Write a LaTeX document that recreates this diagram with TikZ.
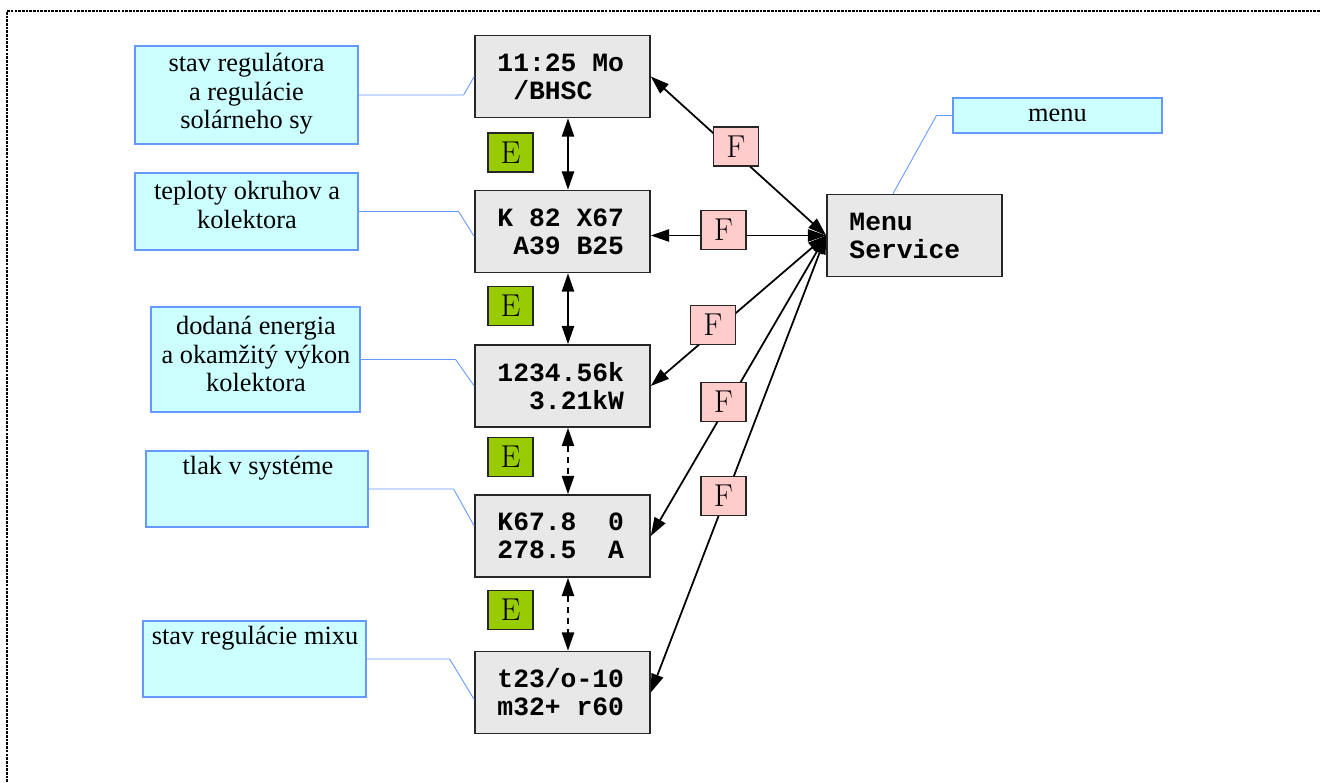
\documentclass[tikz,border=0pt]{standalone}
\usepackage{fontspec}
\setmonofont{Liberation Mono}
\newfontfamily\timesfont{Liberation Serif}
\usetikzlibrary{calc,arrows.meta}
\definecolor{lcdgray}{HTML}{E8E8E8}
\definecolor{egreen}{HTML}{99CC00}
\definecolor{fpink}{HTML}{FFCCCC}
\definecolor{notecyan}{HTML}{CCFFFF}
\definecolor{noteblue}{HTML}{6699FF}
\newcommand{\lcdsp}{\hphantom{0}}
\tikzset{
	lcd/.style={draw=black!85, line width=0.9pt, fill=lcdgray, minimum width=3.5cm, minimum height=1.64cm, inner sep=0pt, text width=74pt, align=left, font=\fontsize{15}{16}\ttfamily\bfseries},
	key/.style={draw=black!85, line width=0.8pt, minimum width=0.9cm, minimum height=0.78cm, inner sep=0pt, font=\fontsize{18}{18}\selectfont},
	ekey/.style={key, fill=egreen},
	fkey/.style={key, fill=fpink},
	note/.style={draw=noteblue, line width=0.7pt, fill=notecyan, inner sep=0pt},
	notetext/.style={inner sep=0pt, align=center, font=\fontsize{15}{16.2}\timesfont},
	lead/.style={draw=noteblue, line width=0.5pt},
	nav/.style={line width=1pt, {Triangle[length=10.5pt,width=7pt]}-{Triangle[length=10.5pt,width=7pt]}},
	frame/.style={line width=1.5pt, dash pattern=on 1.5pt off 0.6pt}
}
\begin{document}
\begin{tikzpicture}[x=0.02cm, y=-0.02cm]
			%%%%% START %%%%%
			\useasboundingbox (0, 0) rectangle (1320, 782);
			\draw[frame] (7, 782) -- (7, 11) -- (1320, 11);
			
			\node[lcd] (lcd1) at (562.5, 76.5) {11:25\lcdsp Mo\\\lcdsp/BHSC};
			\node[lcd] (lcd2) at (562.5, 231.5) {K\lcdsp 82\lcdsp X67\\\lcdsp A39\lcdsp B25};
			\node[lcd] (lcd3) at (562.5, 386) {1234.56k\\\lcdsp\lcdsp 3.21kW};
			\node[lcd] (lcd4) at (562.5, 536) {K67.8\lcdsp\lcdsp 0\\278.5\lcdsp\lcdsp A};
			\node[lcd] (lcd5) at (562.5, 692.5) {t23/o-10\\m32+\lcdsp r60};
			\node[lcd] (menu) at (914.5, 235.5) {Menu\\Service};
			
			\draw[nav] ($(lcd1.south)+(5.5, 0)$) -- ($(lcd2.north)+(5.5, 0)$);
			\draw[nav] ($(lcd2.south)+(5.5, 0)$) -- ($(lcd3.north)+(5.5, 0)$);
			\draw[nav, dash pattern=on 3.5pt off 2.8pt] ($(lcd3.south)+(5.5, 0)$) -- ($(lcd4.north)+(5.5, 0)$);
			\draw[nav, dash pattern=on 3.5pt off 2.8pt] ($(lcd4.south)+(5.5, 0)$) -- ($(lcd5.north)+(5.5, 0)$);
			
			\node[ekey] (e1) at (510.5, 152.5) {E};
			\node[ekey] (e2) at (510.5, 306) {E};
			\node[ekey] (e3) at (510.5, 457) {E};
			\node[ekey] (e4) at (510.5, 610) {E};
			
			\draw[nav] (lcd1.east) -- (menu.west);
			\draw[nav] (lcd2.east |- menu.west) -- (menu.west);
			\draw[nav] (lcd3.east) -- (menu.west);
			\draw[nav] (lcd4.east) -- (menu.west);
			\draw[nav] (lcd5.east) -- (menu.west);
			
			\node[fkey] (f1) at (736, 146.5) {F};
			\node[fkey] (f2) at (723.5, 230) {F};
			\node[fkey] (f3) at (713, 325) {F};
			\node[fkey] (f4) at (723.5, 402) {F};
			\node[fkey] (f5) at (723.5, 496) {F};
			
			% popisy
			\node[note, minimum width=4.46cm, minimum height=1.96cm] (n1) at (246.5, 95) {};
			\node[notetext] (n1t) at (246.5, 94) {stav regulátora\\a regulácie\\solárneho sy};
			\draw[lead] (n1.east) -- ++(105, 0) -- (lcd1.west);
			
			\node[note, minimum width=4.46cm, minimum height=1.54cm] (n2) at (246.5, 211.5) {};
			\node[notetext] (n2t) at (247, 205) {teploty okruhov a\\kolektora};
			\draw[lead] (n2.east) -- ++(100, 0) -- ($(lcd2.west)+(0, 5)$);
			
			\node[note, minimum width=4.18cm, minimum height=2.1cm] (n3) at (255.5, 359.5) {};
			\node[notetext] (n3t) at (256, 354) {dodaná energia\\a okamžitý výkon\\kolektora};
			\draw[lead] (n3.east) -- ++(95, 0) -- (lcd3.west);
			
			\node[note, minimum width=4.44cm, minimum height=1.52cm] (n4) at (257, 489) {};
			\node[notetext] (n4t) at (258, 468) {tlak v systéme};
			\draw[lead] (n4.east) -- ++(85, 0) -- ($(lcd4.west)+(0, -10)$);
			
			\node[note, minimum width=4.46cm, minimum height=1.52cm] (n5) at (254.5, 659) {};
			\node[notetext] (n5t) at (255, 638) {stav regulácie mixu};
			\draw[lead] (n5.east) -- ++(83, 0) -- ($(lcd5.west)+(0, 7)$);
			
			\node[note, minimum width=4.18cm, minimum height=0.7cm, font=\fontsize{15}{16.2}\timesfont] (n6) at (1057.5, 115.5) {menu};
			\draw[lead] (n6.west) -- ++(-16, 0) -- ($(menu.north)+(-21.5, 0)$);
			
			%%%%% END %%%%%
\end{tikzpicture}
\end{document}
